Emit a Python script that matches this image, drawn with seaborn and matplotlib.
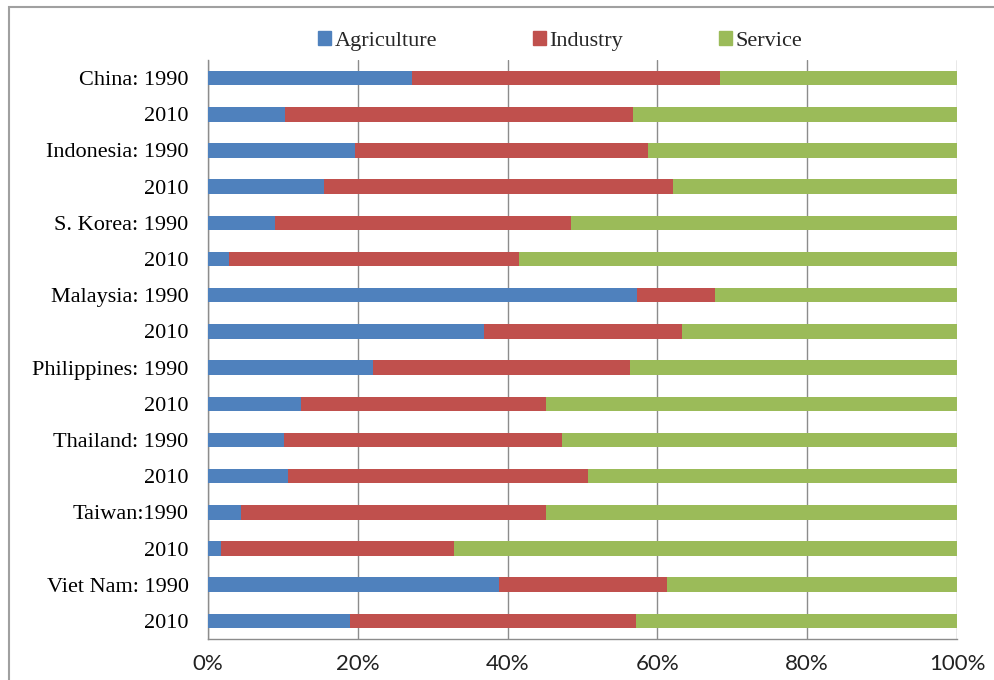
import pandas as pd
import matplotlib.pyplot as plt
import matplotlib.patches as mpatches
import seaborn as sns

# Sector shares of GDP (%)
rows = ["China: 1990", "China: 2010", "Indonesia: 1990", "Indonesia: 2010",
        "S. Korea: 1990", "S. Korea: 2010", "Malaysia: 1990", "Malaysia: 2010",
        "Philippines: 1990", "Philippines: 2010", "Thailand: 1990", "Thailand: 2010",
        "Taiwan:1990", "Taiwan: 2010", "Viet Nam: 1990", "Viet Nam: 2010"]
row_labels = ["China: 1990", "2010", "Indonesia: 1990", "2010",
              "S. Korea: 1990", "2010", "Malaysia: 1990", "2010",
              "Philippines: 1990", "2010", "Thailand: 1990", "2010",
              "Taiwan:1990", "2010", "Viet Nam: 1990", "2010"]
agriculture = [27.2, 10.3, 19.6, 15.5, 8.9, 2.8, 57.3, 36.9,
               22.0, 12.4, 10.1, 10.7, 4.4, 1.7, 38.9, 18.9]
industry = [41.2, 46.5, 39.1, 46.6, 39.6, 38.7, 10.4, 26.4,
            34.4, 32.7, 37.1, 40.1, 40.7, 31.1, 22.4, 38.2]
service = [31.6, 43.2, 41.3, 37.9, 51.5, 58.5, 32.3, 36.7,
           43.6, 54.9, 52.8, 49.2, 54.9, 67.2, 38.7, 42.9]
sectors = ["Agriculture", "Industry", "Service"]
colors = ["#4f81bd", "#c0504d", "#9bbb59"]

df = pd.DataFrame({"row": rows, "agriculture": agriculture,
                   "industry": industry, "service": service})
df["cum_agri"] = df["agriculture"] / 100
df["cum_ind"] = (df["agriculture"] + df["industry"]) / 100
df["cum_all"] = (df["agriculture"] + df["industry"] + df["service"]) / 100

sns.set_style("white")
plt.rcParams["font.family"] = ["Liberation Serif", "DejaVu Serif"]

fig = plt.figure(figsize=(9.95, 6.8), dpi=100)
ax = fig.add_axes([208 / 995, 1 - 639 / 680, (957 - 208) / 995, (639 - 60) / 680])

# stacked bars: draw cumulative totals back to front
for col, c in [("cum_all", colors[2]), ("cum_ind", colors[1]), ("cum_agri", colors[0])]:
    sns.barplot(data=df, x=col, y="row", order=rows, color=c, width=0.4,
                saturation=1, orient="h", ax=ax, zorder=3, edgecolor="none")

ax.set_xlim(0, 1)
ax.set_ylim(len(rows) - 0.5, -0.5)
ax.set_xticks([0, 0.2, 0.4, 0.6, 0.8, 1.0])
ax.set_xticklabels(["0%", "20%", "40%", "60%", "80%", "100%"],
                   fontsize=16, family="Lato", color="#222222")
ax.set_yticks(range(len(rows)))
ax.set_yticklabels(row_labels, fontsize=16, color="#000000")
ax.set_yticks([i - 0.5 for i in range(len(rows) + 1)], minor=True)
ax.tick_params(axis="y", which="major", length=0, pad=14)
ax.tick_params(axis="y", which="minor", length=5, direction="out", color="#8c8c8c", width=1)
ax.tick_params(axis="x", which="major", length=5, direction="out", color="#8c8c8c",
               width=1, pad=6)
ax.set_xlabel("")
ax.set_ylabel("")

ax.grid(axis="x", color="#8c8c8c", linewidth=1, zorder=0)
ax.set_axisbelow(True)
for side in ["top", "right"]:
    ax.spines[side].set_visible(False)
for side in ["left", "bottom"]:
    ax.spines[side].set_color("#8c8c8c")
    ax.spines[side].set_linewidth(1)

handles = [mpatches.Patch(color=c, label=s) for s, c in zip(sectors, colors)]
fig.legend(handles=handles, loc="center", bbox_to_anchor=(560 / 995, 1 - 41 / 680),
           ncol=3, frameon=False, fontsize=16, handlelength=0.6, handleheight=0.6,
           handletextpad=0.15, columnspacing=4.3)

# outer chart frame (runs off the right and bottom edges)
fig.patches.append(mpatches.Rectangle((9 / 995, -0.05), 1.05, 1 - 7 / 680 + 0.05,
                                      transform=fig.transFigure, fill=False,
                                      edgecolor="#a0a0a0", linewidth=1.5))

fig.savefig("out.png", dpi=100)
